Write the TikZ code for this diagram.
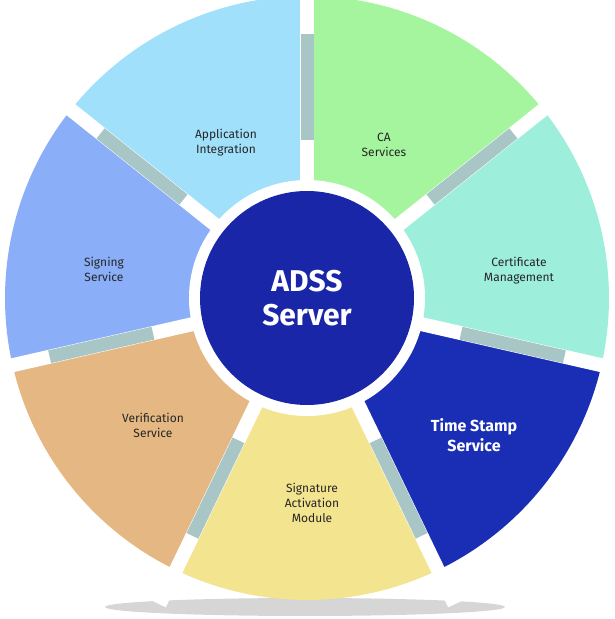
\documentclass[tikz,border=0pt]{standalone}
\usepackage{fontspec}
\setmainfont{Fira Sans}
\usetikzlibrary{calc}
\definecolor{cca}{HTML}{A4F59E}
\definecolor{ccert}{HTML}{9EEEDC}
\definecolor{cts}{HTML}{1A2DB5}
\definecolor{csig}{HTML}{F3E48F}
\definecolor{cver}{HTML}{E5B883}
\definecolor{csign}{HTML}{8AAEF8}
\definecolor{capp}{HTML}{A0E0FB}
\definecolor{ccenter}{HTML}{1A26A8}
\definecolor{cbar}{HTML}{A9C6C6}
\definecolor{cshadow}{HTML}{D6D6D6}
\tikzset{
  lbl/.style={align=center,font=\fontsize{12}{15}\selectfont,text=black!85},
  gap/.style={white,line width=14pt},
  bar/.style={cbar,line width=13pt}
}
\begin{document}
\begin{tikzpicture}[x=1pt,y=1pt]
\useasboundingbox (0,0) rectangle (615,619);
\clip (0,0) rectangle (615,619);
\fill[cshadow] (305,12) ellipse (200 and 9);
\coordinate (c) at (307,321);
\def\R{302}
\foreach \a/\b/\col in {90/38.571/cca, 38.571/-12.857/ccert, -12.857/-64.286/cts, -64.286/-115.714/csig, -115.714/-167.143/cver, -167.143/-218.571/csign, -218.571/-270/capp}{
  \fill[\col] (c) -- ($(c)+(\a:\R)$) arc[start angle=\a, end angle=\b, radius=\R] -- cycle;
}
\foreach \a in {90,38.571,-12.857,-64.286,-115.714,-167.143,-218.571}{
  \draw[gap] (c) -- ++(\a:340);
  \draw[bar] ($(c)+(\a:158)$) -- ($(c)+(\a:264)$);
}
\fill[white] (c) circle (118);
\node[circle,fill=ccenter,minimum size=214pt,inner sep=0pt,text=white,align=center,
  font=\bfseries\fontsize{30}{34}\selectfont] (center) at (c) {ADSS\\Server};
\node[lbl] (app) at (226,476) {Application\\Integration};
\node[lbl] (ca) at (384,474) {CA\\Services};
\node[lbl] (cert) at (519,348) {Certificate\\Management};
\node[lbl,text=white,font=\bfseries\fontsize{16}{20}\selectfont] (ts) at (474,184) {Time Stamp\\Service};
\node[lbl] (sig) at (312,116) {Signature\\Activation\\Module};
\node[lbl] (ver) at (153,194) {Verification\\Service};
\node[lbl] (sign) at (104,350) {Signing\\Service};
\end{tikzpicture}
\end{document}
